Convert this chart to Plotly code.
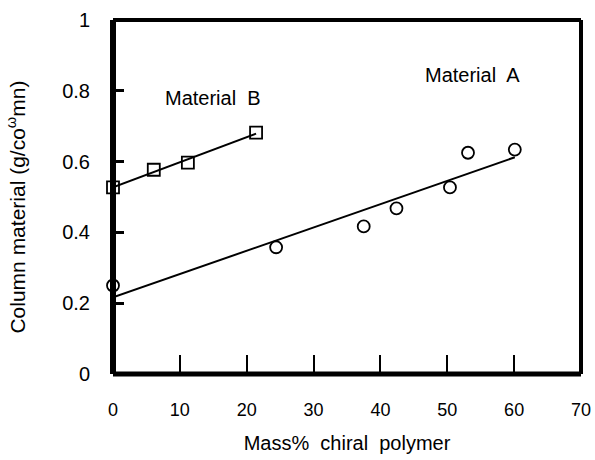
import numpy as np
import plotly.graph_objects as go

# Material A: column material vs. mass% chiral polymer
mass_a = [0, 24.4, 37.5, 42.4, 50.4, 53.1, 60.1]
col_a = [0.25, 0.358, 0.417, 0.468, 0.527, 0.625, 0.634]

# Material B
mass_b = [0, 6.1, 11.2, 21.4]
col_b = [0.527, 0.577, 0.597, 0.682]

x_ticks = [0, 10, 20, 30, 40, 50, 60, 70]
y_ticks = [0, 0.2, 0.4, 0.6, 0.8, 1]

FONT = "Liberation Sans, Arial, sans-serif"


def linear_fit(xs, ys):
    slope, intercept = np.polyfit(xs, ys, 1)
    xf = np.array([min(xs), max(xs)])
    return xf, slope * xf + intercept


fig = go.Figure()

for xs, ys, sym in [(mass_a, col_a, "circle-open"), (mass_b, col_b, "square-open")]:
    xf, yf = linear_fit(xs, ys)
    fig.add_trace(go.Scatter(x=xf, y=yf, mode="lines",
                             line=dict(color="black", width=2), showlegend=False,
                             hoverinfo="skip"))
    fig.add_trace(go.Scatter(x=xs, y=ys, mode="markers",
                             marker=dict(symbol=sym, size=12, color="black",
                                         line=dict(width=1.8, color="black")),
                             showlegend=False, cliponaxis=False))

fig.add_annotation(x=14.9, y=0.78, text="Material  B", showarrow=False,
                   font=dict(size=20, color="black", family=FONT))
fig.add_annotation(x=53.7, y=0.845, text="Material  A", showarrow=False,
                   font=dict(size=20, color="black", family=FONT))

# y-axis title, placed by hand to the left of the tick labels
fig.add_annotation(xref="paper", yref="paper", x=-0.208, y=0.472,
                   xanchor="center", yanchor="middle", textangle=-90,
                   text="Column material (g/co<sup>ω</sup>mn)", showarrow=False,
                   font=dict(size=21, color="black", family=FONT))

# heavy frame drawn centred on the plot-area edges
frame = [
    (0, 0, 0, 1, 6),   # left
    (0, 0, 1, 0, 5),   # bottom
    (0, 1, 1, 1, 4),   # top
    (1, 0, 1, 1, 4),   # right
]
for x0, y0, x1, y1, w in frame:
    fig.add_shape(type="line", xref="x domain", yref="y domain",
                  x0=x0, y0=y0, x1=x1, y1=y1, layer="below",
                  line=dict(color="black", width=w))

fig.update_xaxes(range=[0, 70], tickvals=x_ticks, ticktext=[str(v) for v in x_ticks],
                 showgrid=False, zeroline=False, showline=False, automargin=False,
                 ticks="inside", ticklen=19, tickwidth=2, tickcolor="black",
                 ticklabelstandoff=23,
                 tickfont=dict(size=18, color="black", family=FONT),
                 title=dict(text="Mass%  chiral  polymer", standoff=16,
                            font=dict(size=20, color="black", family=FONT)))

fig.update_yaxes(range=[0, 1], tickvals=y_ticks,
                 ticktext=["0", "0.2", "0.4", "0.6", "0.8", "1"],
                 showgrid=False, zeroline=False, showline=False, automargin=False,
                 ticks="inside", ticklen=11, tickwidth=3, tickcolor="black",
                 ticklabelstandoff=22,
                 tickfont=dict(size=20, color="black", family=FONT))

fig.update_layout(width=595, height=460,
                  margin=dict(l=113, r=14, t=20, b=86),
                  plot_bgcolor="rgba(0,0,0,0)", paper_bgcolor="white",
                  font=dict(family=FONT, color="black"))

fig.write_html("out.html")
